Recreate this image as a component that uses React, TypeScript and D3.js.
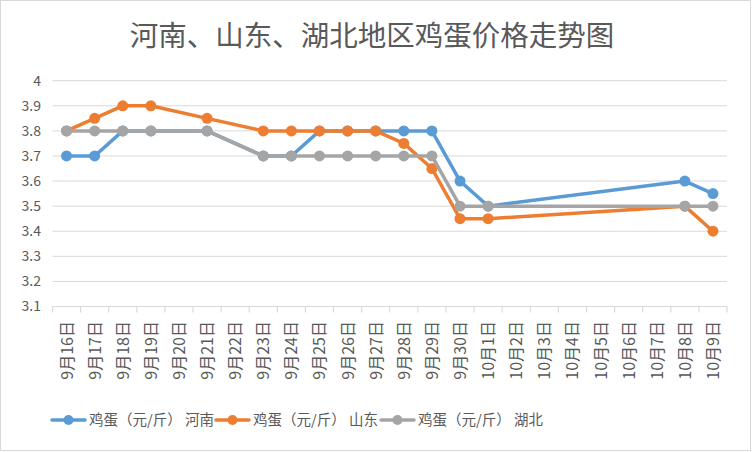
import React from "react";
import * as d3 from "d3";

const categories = [
  "9月16日", "9月17日", "9月18日", "9月19日", "9月20日", "9月21日", "9月22日", "9月23日",
  "9月24日", "9月25日", "9月26日", "9月27日", "9月28日", "9月29日", "9月30日", "10月1日",
  "10月2日", "10月3日", "10月4日", "10月5日", "10月6日", "10月7日", "10月8日", "10月9日",
];

// null = no data for that day (line connects across gaps)
const henan = [3.7, 3.7, 3.8, 3.8, null, 3.8, null, 3.7, 3.7, 3.8, 3.8, 3.8, 3.8, 3.8, 3.6, 3.5, null, null, null, null, null, null, 3.6, 3.55];
const shandong = [3.8, 3.85, 3.9, 3.9, null, 3.85, null, 3.8, 3.8, 3.8, 3.8, 3.8, 3.75, 3.65, 3.45, 3.45, null, null, null, null, null, null, 3.5, 3.4];
const hubei = [3.8, 3.8, 3.8, 3.8, null, 3.8, null, 3.7, 3.7, 3.7, 3.7, 3.7, 3.7, 3.7, 3.5, 3.5, null, null, null, null, null, null, 3.5, 3.5];

const yTicks = [3.1, 3.2, 3.3, 3.4, 3.5, 3.6, 3.7, 3.8, 3.9, 4];
const seriesNames = ["鸡蛋（元/斤） 河南", "鸡蛋（元/斤） 山东", "鸡蛋（元/斤） 湖北"];
const seriesColors = ["#5b9bd5", "#ed7d31", "#a5a5a5"];
const title = "河南、山东、湖北地区鸡蛋价格走势图";

const W = 752;
const H = 452;
const plot = { left: 52.5, right: 727, top: 80.7, bottom: 306.5 };
const FONT = "'Noto Sans CJK SC', 'Noto Sans', sans-serif";
const TEXT = "#595959";

export default function App() {
  const x = d3.scaleBand<string>().domain(categories).range([plot.left, plot.right]);
  const y = d3.scaleLinear().domain([3.1, 4]).range([plot.bottom, plot.top]);
  const cx = (i: number) => (x(categories[i]) as number) + x.bandwidth() / 2;

  const all = [henan, shandong, hubei];
  const line = d3
    .line<{ i: number; v: number }>()
    .x((d) => cx(d.i))
    .y((d) => y(d.v));

  const pts = (arr: (number | null)[]) =>
    arr.map((v, i) => ({ i, v })).filter((d) => d.v !== null) as { i: number; v: number }[];

  const legendX = [52, 216, 381];
  const legendY = 420;

  return (
    <svg
      width={W}
      height={H}
      style={{ position: "absolute", left: 0, top: 0, background: "#fff" }}
      fontFamily={FONT}
    >
      <rect x={0.5} y={0.5} width={W - 2} height={H - 2} fill="#fff" stroke="#d9d9d9" />
      <text x={372} y={46} textAnchor="middle" fontSize={28.5} fill={TEXT}>
        {title}
      </text>

      {yTicks.map((t) => (
        <g key={t}>
          {t !== 3.1 && (
            <line x1={plot.left} x2={plot.right} y1={y(t)} y2={y(t)} stroke="#d9d9d9" strokeWidth={1} />
          )}
          <text x={41} y={y(t)} dy="0.35em" textAnchor="end" fontSize={14} fill={TEXT}>
            {d3.format("")(t)}
          </text>
        </g>
      ))}

      <line x1={plot.left} x2={plot.right} y1={plot.bottom} y2={plot.bottom} stroke="#d9d9d9" strokeWidth={1.2} />
      {d3.range(categories.length + 1).map((i) => {
        const xx = plot.left + i * x.step();
        return <line key={i} x1={xx} x2={xx} y1={plot.bottom} y2={plot.bottom + 6} stroke="#d9d9d9" strokeWidth={1.2} />;
      })}

      {categories.map((c, i) => (
        <text
          key={c}
          transform={`translate(${cx(i) + 6},${321}) rotate(-90)`}
          textAnchor="end"
          fontSize={16}
          fill={TEXT}
        >
          {c}
        </text>
      ))}

      {all.map((arr, k) => (
        <g key={k}>
          <path d={line(pts(arr)) || ""} fill="none" stroke={seriesColors[k]} strokeWidth={3.5} strokeLinejoin="round" strokeLinecap="round" />
          {pts(arr).map((d) => (
            <circle key={d.i} cx={cx(d.i)} cy={y(d.v)} r={5.5} fill={seriesColors[k]} />
          ))}
        </g>
      ))}

      {seriesNames.map((n, k) => (
        <g key={n}>
          <line x1={legendX[k]} x2={legendX[k] + 33} y1={legendY} y2={legendY} stroke={seriesColors[k]} strokeWidth={3.5} strokeLinecap="round" />
          <circle cx={legendX[k] + 16.5} cy={legendY} r={5} fill={seriesColors[k]} />
          <text x={legendX[k] + 37} y={legendY} dy="0.35em" fontSize={14.5} fill={TEXT}>
            {n}
          </text>
        </g>
      ))}
    </svg>
  );
}
